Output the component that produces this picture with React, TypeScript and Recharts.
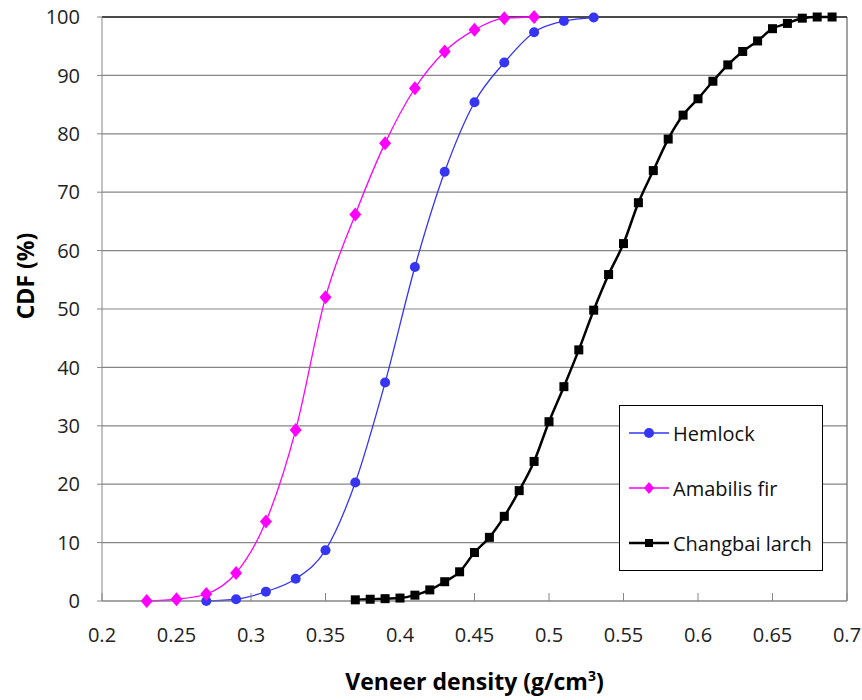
import React from "react"
import { LineChart, Line, XAxis, YAxis, CartesianGrid, ReferenceLine } from "recharts"

// density (g/cm3) and cumulative share (%) for each species
const hemlockX = [0.27, 0.29, 0.31, 0.33, 0.35, 0.37, 0.39, 0.41, 0.43, 0.45, 0.47, 0.49, 0.51, 0.53]
const hemlockCdf = [0, 0.3, 1.6, 3.8, 8.7, 20.3, 37.4, 57.2, 73.5, 85.4, 92.2, 97.4, 99.3, 99.9]

const firX = [0.23, 0.25, 0.27, 0.29, 0.31, 0.33, 0.35, 0.37, 0.39, 0.41, 0.43, 0.45, 0.47, 0.49]
const firCdf = [0, 0.3, 1.2, 4.8, 13.6, 29.3, 52, 66.2, 78.4, 87.8, 94.1, 97.8, 99.8, 100]

const larchX = [
  0.37, 0.38, 0.39, 0.4, 0.41, 0.42, 0.43, 0.44, 0.45, 0.46, 0.47, 0.48, 0.49, 0.5, 0.51, 0.52, 0.53,
  0.54, 0.55, 0.56, 0.57, 0.58, 0.59, 0.6, 0.61, 0.62, 0.63, 0.64, 0.65, 0.66, 0.67, 0.68, 0.69,
]
const larchCdf = [
  0.2, 0.3, 0.4, 0.5, 1.0, 1.9, 3.3, 5.0, 8.3, 10.9, 14.5, 18.9, 23.9, 30.7, 36.7, 43.0, 49.8,
  55.9, 61.2, 68.2, 73.7, 79.1, 83.2, 86.0, 89.0, 91.8, 94.1, 95.9, 98.0, 98.9, 99.8, 100, 100,
]

const xTicks = [0.2, 0.25, 0.3, 0.35, 0.4, 0.45, 0.5, 0.55, 0.6, 0.65, 0.7]
const yTicks = [0, 10, 20, 30, 40, 50, 60, 70, 80, 90, 100]

const zip = (xs: number[], ys: number[]) => xs.map((x, i) => ({ x, y: ys[i] }))
const hemlockData = zip(hemlockX, hemlockCdf)
const firData = zip(firX, firCdf)
const larchData = zip(larchX, larchCdf)

const BLUE = "#3535f2"
const MAGENTA = "#ff00ff"
const FONT = "'Open Sans', 'Noto Sans', sans-serif"
const AXIS_GRAY = "#868686"

const circleDot = (p: any) => (
  <circle key={`h${p.index}`} cx={p.cx} cy={p.cy} r={5} fill={BLUE} stroke="none" />
)
const diamondDot = (p: any) => (
  <path
    key={`f${p.index}`}
    d={`M${p.cx},${p.cy - 7} L${p.cx + 6},${p.cy} L${p.cx},${p.cy + 7} L${p.cx - 6},${p.cy} Z`}
    fill={MAGENTA}
  />
)
const squareDot = (p: any) => (
  <rect key={`l${p.index}`} x={p.cx - 4.5} y={p.cy - 4.5} width={9} height={9} fill="#000" />
)

const legendItems = [
  { name: "Hemlock", color: BLUE, width: 1.3, marker: "circle" },
  { name: "Amabilis fir", color: MAGENTA, width: 1.3, marker: "diamond" },
  { name: "Changbai larch", color: "#000", width: 2.5, marker: "square" },
]

function LegendBox() {
  return (
    <div
      style={{
        position: "absolute",
        left: 619,
        top: 405,
        width: 202,
        height: 164,
        border: "1.5px solid #000",
        background: "#fff",
        fontFamily: FONT,
        fontSize: 20,
        color: "#111",
      }}
    >
      {legendItems.map((it, i) => (
        <div
          key={it.name}
          style={{ position: "absolute", left: 9, top: 27 + i * 55 - 14, height: 28, display: "flex", alignItems: "center" }}
        >
          <svg width={42} height={16} style={{ marginRight: 2 }}>
            <line x1={0} y1={8} x2={40} y2={8} stroke={it.color} strokeWidth={it.width} />
            {it.marker === "circle" && <circle cx={20} cy={8} r={5} fill={it.color} />}
            {it.marker === "diamond" && <path d="M20,2 L25,8 L20,14 L15,8 Z" fill={it.color} />}
            {it.marker === "square" && <rect x={16} y={4} width={8} height={8} fill={it.color} />}
          </svg>
          <span style={{ whiteSpace: "nowrap" }}>{it.name}</span>
        </div>
      ))}
    </div>
  )
}

const XTitle = (props: any) => {
  const vb = props.viewBox
  return (
    <text x={vb.x + vb.width / 2} y={690} textAnchor="middle" fontFamily={FONT} fontWeight="bold" fontSize={23} fill="#000">
      Veneer density (g/cm
      <tspan dy={-9} fontSize={14}>3</tspan>
      <tspan dy={9}>)</tspan>
    </text>
  )
}

const YTitle = () => (
  <text
    x={34}
    y={276}
    transform="rotate(-90 34 276)"
    textAnchor="middle"
    fontFamily={FONT}
    fontWeight="bold"
    fontSize={23}
    fill="#000"
  >
    CDF (%)
  </text>
)

export default function App() {
  return (
    <div style={{ position: "absolute", left: 0, top: 0, width: 862, height: 700, background: "#fff" }}>
      <LineChart width={862} height={700} margin={{ top: 17, right: 15, left: 0, bottom: 0 }}>
        <CartesianGrid vertical={false} stroke={AXIS_GRAY} strokeWidth={1.2} />
        <XAxis
          type="number"
          dataKey="x"
          domain={[0.2, 0.7]}
          ticks={xTicks}
          tickFormatter={(v: number) => String(v)}
          height={99}
          stroke={AXIS_GRAY}
          tickSize={-8}
          tickMargin={35}
          tick={{ fill: "#222", fontFamily: FONT, fontSize: 20 }}
          label={<XTitle />}
          allowDataOverflow
        />
        <YAxis
          type="number"
          domain={[0, 100]}
          ticks={yTicks}
          width={102}
          stroke={AXIS_GRAY}
          tickSize={5}
          tickMargin={17}
          tick={{ fill: "#222", fontFamily: FONT, fontSize: 20 }}
          label={<YTitle />}
        />
        <ReferenceLine x={0.7} stroke="#666" strokeWidth={1.2} />
        <ReferenceLine y={100} stroke="#222" strokeWidth={1.5} />
        <Line
          data={hemlockData}
          dataKey="y"
          name="Hemlock"
          type="monotone"
          stroke={BLUE}
          strokeWidth={1.3}
          dot={circleDot}
          activeDot={false}
          isAnimationActive={false}
        />
        <Line
          data={firData}
          dataKey="y"
          name="Amabilis fir"
          type="monotone"
          stroke={MAGENTA}
          strokeWidth={1.3}
          dot={diamondDot}
          activeDot={false}
          isAnimationActive={false}
        />
        <Line
          data={larchData}
          dataKey="y"
          name="Changbai larch"
          type="monotone"
          stroke="#000"
          strokeWidth={2.5}
          dot={squareDot}
          activeDot={false}
          isAnimationActive={false}
        />
      </LineChart>
      <LegendBox />
    </div>
  )
}
